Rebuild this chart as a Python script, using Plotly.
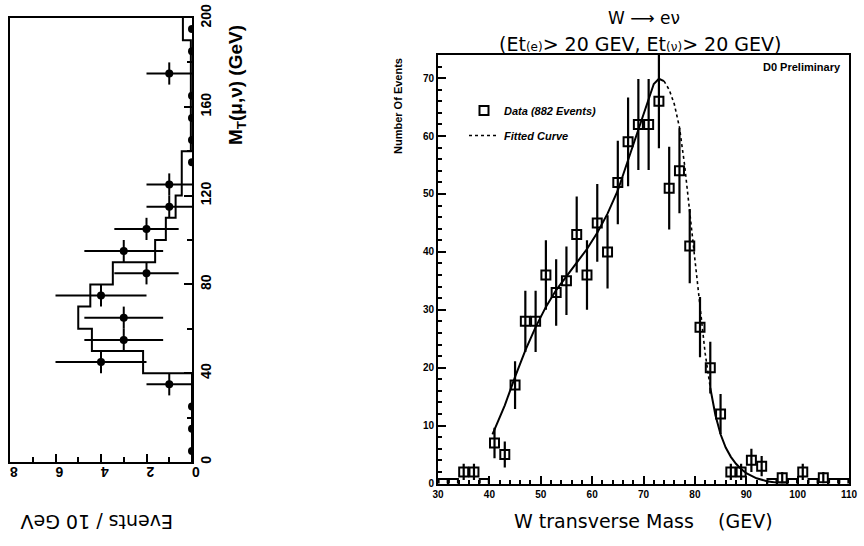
import numpy as np
import plotly.graph_objects as go

# ---------------- Left panel: M_T(mu,nu) ----------------
left_mt_centers = [5, 15, 25, 35, 45, 55, 65, 75, 85, 95, 105, 115, 125, 135, 145, 155, 165, 175, 185, 195]
left_events = [0, 0, 0, 1, 4, 3, 3, 4, 2, 3, 2, 1, 1, 0, 0, 0, 0, 1, 0, 0]
hist_edges = list(range(0, 210, 10))
hist_values = [0, 0, 0, 0, 2.15, 4.4, 5.0, 4.47, 3.48, 1.62, 1.15, 0.72, 0.45, 0.45, 0.05, 0.05, 0.05, 0.05, 0.05, 0.4]
left_xticks = [0, 2, 4, 6, 8]
left_yticks = [0, 40, 80, 120, 160, 200]

# ---------------- Right panel: W -> e nu ----------------
data_mass = [31, 33, 35, 37, 39, 41, 43, 45, 47, 49, 51, 53, 55, 57, 59, 61, 63, 65, 67, 69,
             71, 73, 75, 77, 79, 81, 83, 85, 87, 89, 91, 93, 95, 97, 99, 101, 103, 105, 107, 109]
data_counts = [0, 0, 2, 2, 0, 7, 5, 17, 28, 28, 36, 33, 35, 43, 36, 45, 40, 52, 59, 62,
               62, 66, 51, 54, 41, 27, 20, 12, 2, 2, 4, 3, 0, 1, 0, 2, 0, 1, 0, 0]
fit_mass = [40.6, 43, 45, 47, 49, 51, 53, 55, 57, 59, 61, 63, 65, 67, 69, 71, 72, 73, 74,
            75, 76, 77, 78, 79, 80, 81, 82, 83, 84, 85, 86, 87, 88, 89, 90, 92, 94, 96, 98]
fit_counts = [8.5, 13.5, 18.4, 23.0, 27.0, 30.5, 33.4, 35.8, 38.2, 40.5, 43.3, 46.6, 50.6, 55.8, 61.3, 66.4, 69.0, 69.9, 69.5,
              68.0, 65.5, 61.5, 55.0, 47.0, 38.5, 30.0, 22.5, 16.5, 11.8, 8.5, 6.2, 4.6, 3.4, 2.5, 1.8, 0.9, 0.4, 0.15, 0.05]
right_xticks = [30, 40, 50, 60, 70, 80, 90, 100, 110]
right_yticks = [0, 10, 20, 30, 40, 50, 60, 70]

W, H = 864, 546
FONT = "Liberation Sans"
WIDE = "DejaVu Sans"

fig = go.Figure()

# histogram as steps (x = events, y = M_T)
hx, hy = [], []
for i, v in enumerate(hist_values):
    hx += [v, v]
    hy += [hist_edges[i], hist_edges[i + 1]]
fig.add_trace(go.Scatter(x=hx, y=hy, mode="lines", line=dict(color="black", width=2),
                         xaxis="x", yaxis="y", showlegend=False, hoverinfo="skip"))

lev = np.array(left_events, dtype=float)
fig.add_trace(go.Scatter(
    x=left_events, y=left_mt_centers, mode="markers",
    marker=dict(symbol="circle", size=8, color="black"),
    error_x=dict(type="data", array=list(np.sqrt(lev)), color="black", thickness=2, width=0),
    error_y=dict(type="data", array=[5 if n > 0 else 0 for n in left_events], color="black", thickness=2, width=0),
    xaxis="x", yaxis="y", showlegend=False))

# right panel data
cnt = np.array(data_counts, dtype=float)
fig.add_trace(go.Scatter(
    x=data_mass, y=data_counts, mode="markers", name="Data (882 Events)", legendgroup="d",
    marker=dict(symbol="square-open", size=9, color="black", line=dict(width=2, color="black")),
    error_y=dict(type="data", array=list(np.sqrt(cnt)), color="black", thickness=2.2, width=0),
    xaxis="x2", yaxis="y2"))

fm = np.array(fit_mass)
fc = np.array(fit_counts)
seg1 = fm <= 74
seg2 = (fm >= 74) & (fm <= 83)
seg3 = fm >= 83
fig.add_trace(go.Scatter(x=fm[seg1], y=fc[seg1], mode="lines", line=dict(color="black", width=2),
                         xaxis="x2", yaxis="y2", showlegend=False, hoverinfo="skip"))
fig.add_trace(go.Scatter(x=fm[seg2], y=fc[seg2], mode="lines", name="Fitted Curve", legendgroup="f",
                         line=dict(color="black", width=1.6, dash="dot"),
                         xaxis="x2", yaxis="y2"))
fig.add_trace(go.Scatter(x=fm[seg3], y=fc[seg3], mode="lines", line=dict(color="black", width=2),
                         xaxis="x2", yaxis="y2", showlegend=False, hoverinfo="skip"))

axis_common = dict(showline=True, linecolor="black", linewidth=2, mirror=True,
                   showgrid=False, zeroline=False, ticks="inside", tickcolor="black",
                   tickwidth=2, automargin=False)

fig.update_layout(
    template="none",
    width=W, height=H, margin=dict(l=0, r=0, t=0, b=0, autoexpand=False),
    plot_bgcolor="white", paper_bgcolor="white",
    font=dict(family=FONT, color="black"),
    xaxis=dict(domain=[10 / W, 192 / W], range=[8, 0], anchor="y",
               tickvals=left_xticks, ticktext=[str(v) for v in left_xticks],
               tickangle=180, ticklen=8,
               tickfont=dict(size=14, weight="bold", family=FONT),
               minor=dict(dtick=1, ticklen=5, ticks="inside", tickcolor="black", tickwidth=2),
               **axis_common),
    yaxis=dict(domain=[(H - 462) / H, (H - 18) / H], range=[0, 200], anchor="x", side="right",
               tickvals=left_yticks, ticktext=[str(v) for v in left_yticks],
               tickangle=-90, ticklen=8,
               tickfont=dict(size=14, weight="bold", family=FONT),
               minor=dict(dtick=20, ticklen=5, ticks="inside", tickcolor="black", tickwidth=2),
               **axis_common),
    xaxis2=dict(domain=[438 / W, 849 / W], range=[30, 110], anchor="y2",
                tickvals=right_xticks, ticktext=[str(v) for v in right_xticks], ticklen=8,
                tickfont=dict(size=10, weight="bold", family=FONT),
                minor=dict(dtick=2, ticklen=4, ticks="inside", tickcolor="black", tickwidth=1.5),
                **axis_common),
    yaxis2=dict(domain=[(H - 483.5) / H, (H - 55) / H], range=[0, 74], anchor="x2",
                tickvals=right_yticks, ticktext=[str(v) for v in right_yticks], ticklen=8,
                tickfont=dict(size=10, weight="bold", family=FONT),
                minor=dict(dtick=2, ticklen=4, ticks="inside", tickcolor="black", tickwidth=1.5),
                **axis_common),
    showlegend=True,
    legend=dict(x=464 / W, y=(H - 96) / H, xanchor="left", yanchor="top",
                bgcolor="rgba(0,0,0,0)", tracegroupgap=6, borderwidth=0,
                font=dict(size=11, weight="bold", style="italic", family=FONT, color="black")),
)

annotations = [
    dict(text="Events / 10 GeV", x=97 / W, y=(H - 522) / H, textangle=180,
         font=dict(size=19, family=WIDE)),
    dict(text="M<sub>T</sub>(μ,ν) (GeV)", x=237 / W, y=(H - 85) / H, textangle=-90,
         font=dict(size=19, weight="bold", family=FONT)),
    dict(text="W ⟶ eν", x=644 / W, y=(H - 18) / H, font=dict(size=17, family=WIDE)),
    dict(text="(Et<span style='font-size:12px'>(e)</span>> 20 GEV, Et<span style='font-size:12px'>(ν)</span>> 20 GEV)",
         x=640 / W, y=(H - 44) / H, font=dict(size=19, family=WIDE)),
    dict(text="D0 Preliminary", x=802 / W, y=(H - 67) / H,
         font=dict(size=11, weight="bold", family=FONT)),
    dict(text="Number Of Events", x=398 / W, y=(H - 106) / H, textangle=-90,
         font=dict(size=11, weight="bold", family=FONT)),
    dict(text="W transverse Mass &nbsp;&nbsp;&nbsp;(GEV)", x=643 / W, y=(H - 521) / H,
         font=dict(size=19, family=WIDE)),
]
for a in annotations:
    a.update(xref="paper", yref="paper", showarrow=False, xanchor="center", yanchor="middle")
fig.update_layout(annotations=annotations)

fig.write_html("out.html", config={"displayModeBar": False},
               post_script="document.body.style.margin='0px';")
